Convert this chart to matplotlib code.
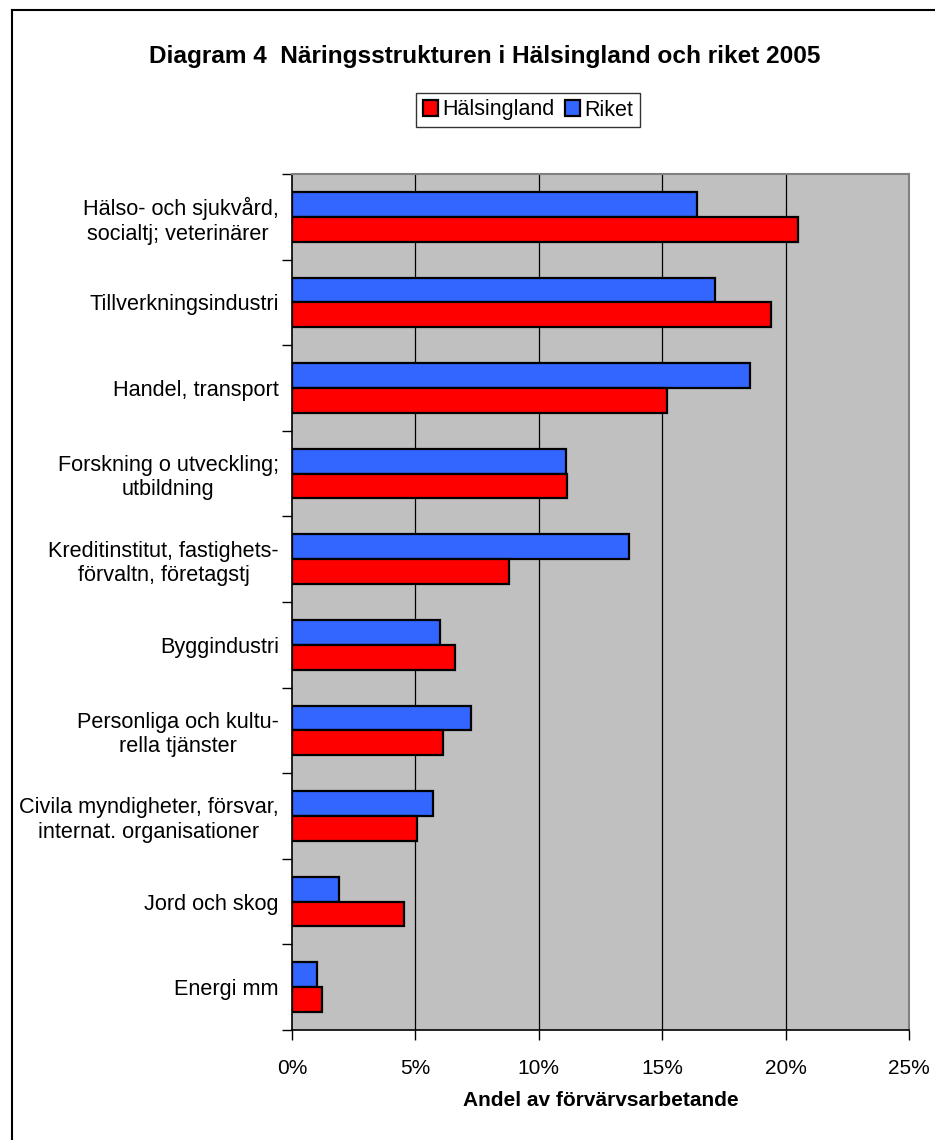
import matplotlib
matplotlib.use("Agg")
import matplotlib.pyplot as plt
from matplotlib.lines import Line2D
from matplotlib.patches import Patch
import numpy as np

plt.rcParams['font.family'] = ['Liberation Sans', 'DejaVu Sans']

categories = [
    "Hälso- och sjukvård,\nsocialtj; veterinärer ",
    "Tillverkningsindustri",
    "Handel, transport",
    "Forskning o utveckling;\nutbildning",
    "Kreditinstitut, fastighets-\nförvaltn, företagstj",
    "Byggindustri",
    "Personliga och kultu-\nrella tjänster",
    "Civila myndigheter, försvar,\ninternat. organisationer",
    "Jord och skog",
    "Energi mm",
]
halsingland = [20.5, 19.4, 15.2, 11.15, 8.8, 6.6, 6.1, 5.05, 4.55, 1.2]
riket = [16.4, 17.15, 18.55, 11.1, 13.65, 6.0, 7.25, 5.7, 1.9, 1.0]
xticks = [0, 5, 10, 15, 20, 25]
xticklabels = ["0%", "5%", "10%", "15%", "20%", "25%"]

W, H = 935, 1140
fig = plt.figure(figsize=(W / 100, H / 100), dpi=100)
fig.patch.set_facecolor("white")

ax = fig.add_axes([292 / W, 1 - 1030 / H, (909 - 292) / W, (1030 - 174) / H])
ax.set_facecolor("#C0C0C0")

y = np.arange(len(categories))
bh = 0.29
ax.barh(y - bh / 2, riket, height=bh, color="#3366FF", edgecolor="black",
        linewidth=1.6, label="Riket", zorder=3)
ax.barh(y + bh / 2, halsingland, height=bh, color="#FF0000", edgecolor="black",
        linewidth=1.6, label="Hälsingland", zorder=3)

ax.set_xlim(0, 25)
ax.set_ylim(len(categories) - 0.5, -0.5)
ax.set_xticks(xticks)
ax.set_xticklabels(xticklabels, fontsize=15)
for xv in xticks[1:-1]:
    ax.axvline(xv, color="black", linewidth=0.9, zorder=1)

ax.set_yticks(np.arange(len(categories) + 1) - 0.5)
ax.set_yticklabels([])
ax.set_yticks(y, minor=True)
ax.set_yticklabels(categories, minor=True, fontsize=15.6, multialignment="center")
ax.tick_params(axis="y", which="minor", length=0, pad=9.5)
ax.tick_params(axis="y", which="major", length=7, width=1, direction="out")
ax.tick_params(axis="x", length=7, width=1, direction="out", pad=14)

for s in ["top", "right"]:
    ax.spines[s].set_color("#808080")
    ax.spines[s].set_linewidth(1.5)
ax.spines["left"].set_color("black")
ax.spines["bottom"].set_color("black")
ax.spines["left"].set_linewidth(1.2)
ax.spines["bottom"].set_linewidth(1.2)

ax.set_xlabel("Andel av förvärvsarbetande", fontsize=15, fontweight="bold", labelpad=9)

fig.text(485 / W, 1 - 57 / H, "Diagram 4  Näringsstrukturen i Hälsingland och riket 2005",
         ha="center", va="center", fontsize=17.6, fontweight="bold")

handles = [Patch(facecolor="#FF0000", edgecolor="black", linewidth=1.6),
           Patch(facecolor="#3366FF", edgecolor="black", linewidth=1.6)]
leg = fig.legend(handles, ["Hälsingland", "Riket"], loc="center",
                 bbox_to_anchor=(528 / W, 1 - 110 / H), ncol=2, fontsize=15.5,
                 frameon=True, fancybox=False, edgecolor="black",
                 handlelength=0.7, handleheight=0.7, handletextpad=0.2,
                 columnspacing=0.5, borderpad=0.3, borderaxespad=0)
leg.get_frame().set_linewidth(1.0)

fig.add_artist(Line2D([12 / W, 12 / W], [0, 1 - 10 / H], color="black", linewidth=1.5,
                      transform=fig.transFigure))
fig.add_artist(Line2D([12 / W, 1], [1 - 10 / H, 1 - 10 / H], color="black", linewidth=1.5,
                      transform=fig.transFigure))

fig.savefig("out.png", dpi=100)
